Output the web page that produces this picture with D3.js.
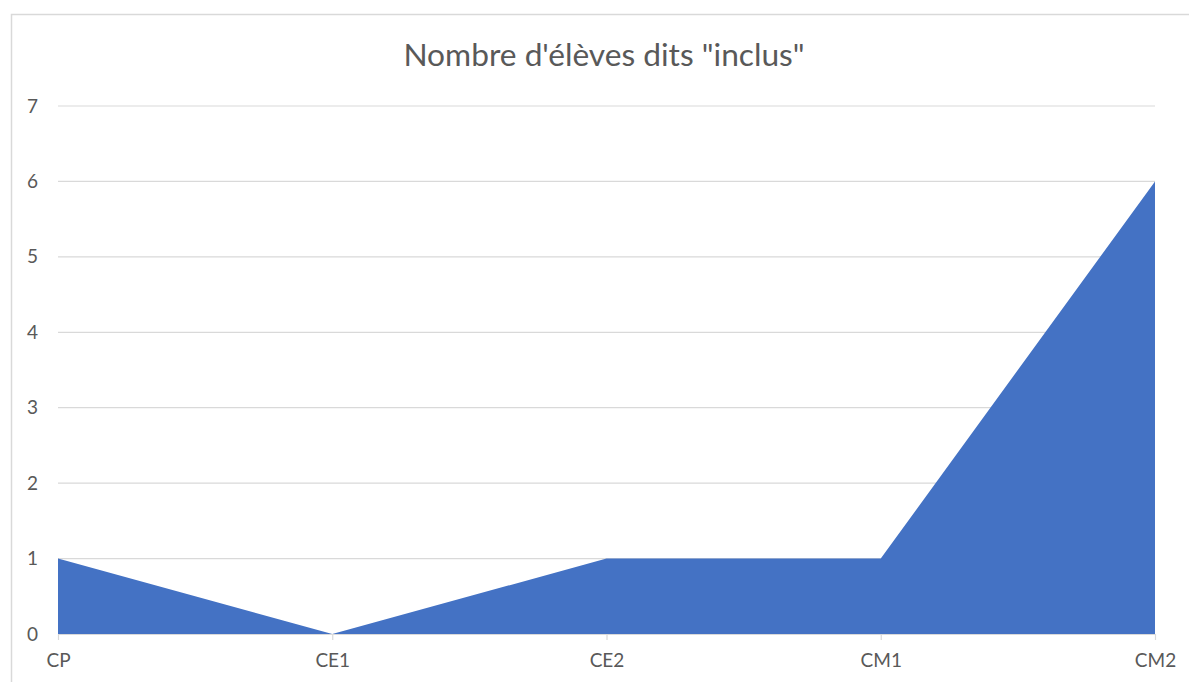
<!DOCTYPE html>
<html>
<head>
<meta charset="utf-8">
<script src="https://cdn.jsdelivr.net/npm/d3@7"></script>
<style>
  html, body { margin: 0; padding: 0; background: #fff; }
  svg { display: block; }
</style>
</head>
<body>
<svg id="chart" width="1189" height="682"></svg>
<script>
// Number of "included" pupils per school level
const categories = ["CP", "CE1", "CE2", "CM1", "CM2"];
const values = [1, 0, 1, 1, 6];
const yTicks = [0, 1, 2, 3, 4, 5, 6, 7];
const title = "Nombre d'élèves dits \"inclus\"";

const W = 1189, H = 682;
const margin = { left: 58, right: W - 1155, top: 106, bottom: H - 634 };
const font = "Lato, 'Open Sans', sans-serif";

const svg = d3.select("#chart");

// chart frame
svg.append("rect")
  .attr("x", 11.5).attr("y", 14.5)
  .attr("width", W + 20).attr("height", H + 20)
  .attr("fill", "#fff").attr("stroke", "#d9d9d9").attr("stroke-width", 1.5);

const x = d3.scalePoint().domain(categories).range([margin.left, W - margin.right]);
const y = d3.scaleLinear().domain([0, 7]).range([H - margin.bottom, margin.top]);

// horizontal gridlines
svg.append("g")
  .selectAll("line")
  .data(yTicks.filter(d => d > 0))
  .join("line")
  .attr("x1", margin.left).attr("x2", W - margin.right)
  .attr("y1", d => y(d)).attr("y2", d => y(d))
  .attr("stroke", "#d9d9d9").attr("stroke-width", 1.2);

// area
const area = d3.area()
  .x((d, i) => x(categories[i]))
  .y0(y(0))
  .y1(d => y(d));
svg.append("path")
  .datum(values)
  .attr("d", area)
  .attr("fill", "#4472c4");

// y axis labels
const yAxis = d3.axisLeft(y).tickValues(yTicks).tickFormat(d3.format("d")).tickSize(0).tickPadding(0);
const gy = svg.append("g")
  .attr("transform", `translate(${margin.left - 20},0)`)
  .call(yAxis);
gy.select(".domain").remove();
gy.selectAll("text")
  .attr("fill", "#595959")
  .style("font-family", font)
  .style("font-size", "19px");

// x axis with small ticks below the baseline
const xAxis = d3.axisBottom(x).tickSize(6).tickPadding(14).tickSizeOuter(0);
const gx = svg.append("g")
  .attr("transform", `translate(0,${y(0)})`)
  .call(xAxis);
gx.select(".domain").attr("stroke", "#d9d9d9").attr("stroke-width", 1.2);
gx.selectAll(".tick line").attr("stroke", "#d9d9d9").attr("stroke-width", 1.2);
gx.selectAll("text")
  .attr("fill", "#595959")
  .style("font-family", font)
  .style("font-size", "19px");

// title
svg.append("text")
  .attr("x", 604).attr("y", 66)
  .attr("text-anchor", "middle")
  .attr("fill", "#595959")
  .style("font-family", font)
  .style("font-size", "31.7px")
  .text(title);
</script>
</body>
</html>
